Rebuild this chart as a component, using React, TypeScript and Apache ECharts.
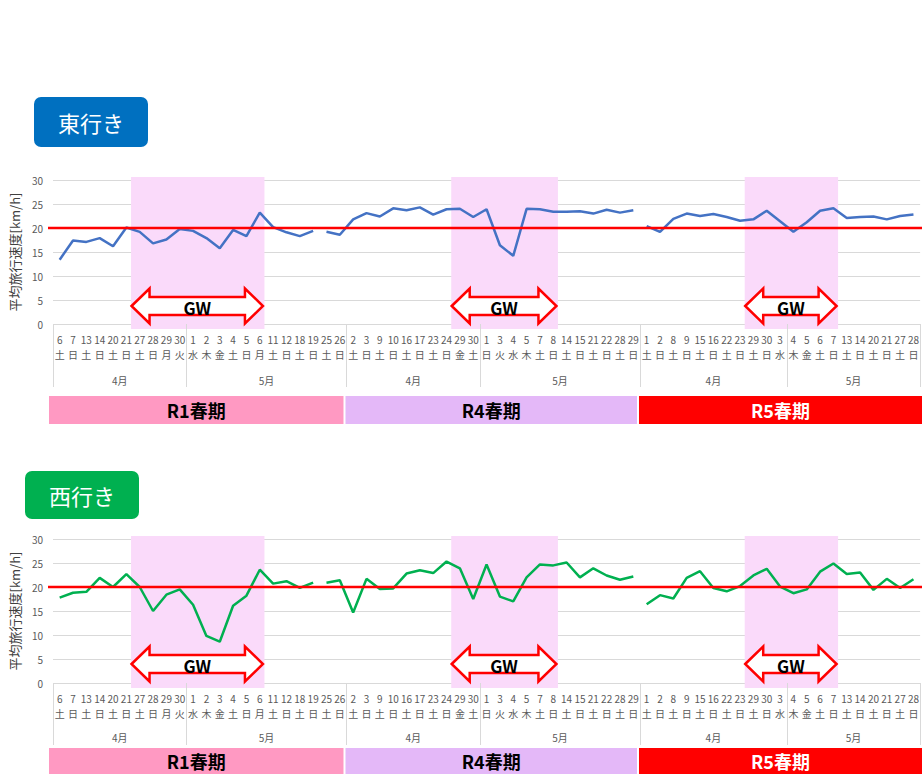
import React, { useEffect, useRef } from "react";
import * as echarts from "echarts";

// ---- data ----
const periods = ["R1春期", "R4春期", "R5春期"];
const monthLabels = ["4月", "5月"];
const r1Days = ["6","7","13","14","20","21","27","28","29","30","1","2","3","4","5","6","11","12","18","19","25","26"];
const r1Weekdays = ["土","日","土","日","土","日","土","日","月","火","水","木","金","土","日","月","土","日","土","日","土","日"];
const r4Days = ["2","3","9","10","16","17","23","24","29","30","1","3","4","5","7","8","14","15","21","22","28","29"];
const r4Weekdays = ["土","日","土","日","土","日","土","日","金","土","日","火","水","木","土","日","土","日","土","日","土","日"];
const r5Days = ["1","2","8","9","15","16","22","23","29","30","3","4","5","6","7","13","14","20","21","27","28"];
const r5Weekdays = ["土","日","土","日","土","日","土","日","土","日","水","木","金","土","日","土","日","土","日","土","日"];
// categories under each month label (as grouped in the source chart)
const monthCounts = [[10, 12], [10, 12], [11, 10]];

const eastR1 = [13.4, 17.4, 17.1, 17.9, 16.2, 20.1, 19.2, 16.8, 17.6, 19.8, 19.4, 17.9, 15.8, 19.6, 18.3, 23.2, 20.2, 19.1, 18.3, 19.4, 19.2, 18.6];
const eastR4 = [21.8, 23.1, 22.4, 24.1, 23.7, 24.3, 22.8, 23.9, 24.0, 22.3, 23.9, 16.4, 14.2, 24.0, 23.9, 23.4, 23.4, 23.5, 23.0, 23.8, 23.2, 23.7];
const eastR5 = [20.4, 19.2, 21.9, 23.0, 22.5, 22.9, 22.3, 21.5, 21.8, 23.6, 21.4, 19.2, 21.2, 23.6, 24.1, 22.1, 22.3, 22.4, 21.8, 22.5, 22.8];

const westR1 = [17.8, 18.8, 19.0, 21.9, 20.0, 22.7, 20.0, 15.0, 18.4, 19.5, 16.3, 9.8, 8.6, 16.1, 18.2, 23.6, 20.7, 21.2, 19.8, 20.9, 20.9, 21.4];
const westR4 = [14.7, 21.7, 19.6, 19.7, 22.8, 23.5, 22.9, 25.3, 23.9, 17.5, 24.7, 18.0, 17.0, 22.0, 24.7, 24.5, 25.1, 22.0, 23.9, 22.4, 21.5, 22.2];
const westR5 = [16.4, 18.3, 17.6, 21.9, 23.3, 19.8, 19.1, 20.2, 22.4, 23.8, 20.1, 18.7, 19.5, 23.2, 24.9, 22.7, 23.0, 19.4, 21.7, 19.8, 21.6];

const targetSpeed = 20;
const lineSegments = [[0, 19], [20, 43], [44, 64]]; // line breaks as in the source
const gwRanges = [[6, 15], [30, 37], [52, 58]]; // first & last GW category index
const yTicks = [0, 30, 5];

const FONT = "'Noto Sans CJK JP', 'Noto Sans', sans-serif";

export default function App() {
  const ref = useRef<HTMLDivElement>(null);
  useEffect(() => {
    if (!ref.current) return;
    const chart = echarts.init(ref.current, undefined, { renderer: "svg" });
    const days = [...r1Days, ...r4Days, ...r5Days];
    const wds = [...r1Weekdays, ...r4Weekdays, ...r5Weekdays];
    const cats = days.map((d, i) => `${d}\n${wds[i]}`);
    const east = [...eastR1, ...eastR4, ...eastR5];
    const west = [...westR1, ...westR4, ...westR5];

    const grids = [
      { left: 53, right: 0, top: 180, height: 144 },
      { left: 53, right: 0, top: 539, height: 144 },
    ];
    const mkX = (gi: number) => ({
      type: "category",
      gridIndex: gi,
      data: cats,
      boundaryGap: true,
      axisLine: { show: false },
      axisTick: { show: false },
      splitLine: { show: false },
      axisLabel: {
        interval: 0,
        fontSize: 10,
        lineHeight: 15,
        color: "#595959",
        margin: 8,
        fontFamily: FONT,
      },
    });
    const mkY = (gi: number) => ({
      type: "value",
      gridIndex: gi,
      min: yTicks[0],
      max: yTicks[1],
      interval: yTicks[2],
      name: "平均旅行速度[km/h]",
      nameLocation: "middle",
      nameGap: 22,
      nameTextStyle: { fontSize: 13, color: "#404040", fontFamily: FONT },
      axisLine: { show: false },
      axisTick: { show: false },
      axisLabel: { fontSize: 10, color: "#595959", margin: 10, fontFamily: FONT },
      splitLine: { lineStyle: { color: "#D9D9D9", width: 1 } },
    });
    const mkSeries = (values: number[], color: string, gi: number) =>
      lineSegments.map(([a, b]) => ({
        type: "line",
        xAxisIndex: gi,
        yAxisIndex: gi,
        data: values.map((v, i) => (i >= a && i <= b ? v : null)),
        symbol: "none",
        silent: true,
        z: 3,
        lineStyle: { color, width: 2.5 },
        itemStyle: { color },
      }));

    chart.setOption({
      animation: false,
      backgroundColor: "#fff",
      textStyle: { fontFamily: FONT },
      grid: grids,
      xAxis: [mkX(0), mkX(1)],
      yAxis: [mkY(0), mkY(1)],
      series: [...mkSeries(east, "#4472C4", 0), ...mkSeries(west, "#00B050", 1)],
    });

    const graphics: any[] = [];
    const chartConf = [
      { title: "東行き", boxColor: "#0070C0", box: [34, 97, 114, 50], bandTop: 72, bandTextOff: 14, monthY: 56, sepLen: 63, arrowOff: 18 },
      { title: "西行き", boxColor: "#00B050", box: [25, 471, 114, 48], bandTop: 65, bandTextOff: 13, monthY: 54, sepLen: 62, arrowOff: 19 },
    ];
    const bandColors = ["#FF99C2", "#E4B8F8", "#FF0000"];
    const bandText = ["#000", "#000", "#fff"];

    chartConf.forEach((cc, gi) => {
      const x0 = chart.convertToPixel({ xAxisIndex: gi }, 0) as number;
      const x1 = chart.convertToPixel({ xAxisIndex: gi }, 1) as number;
      const band = x1 - x0;
      const xf = (f: number) => x0 + f * band;
      const y0 = chart.convertToPixel({ yAxisIndex: gi }, 0) as number;
      const yT = chart.convertToPixel({ yAxisIndex: gi }, yTicks[1]) as number;
      const y20 = chart.convertToPixel({ yAxisIndex: gi }, targetSpeed) as number;

      // title box
      const [bx, by, bw, bh] = cc.box;
      graphics.push({ type: "rect", z: 10, shape: { x: bx, y: by, width: bw, height: bh, r: 7 }, style: { fill: cc.boxColor } });
      graphics.push({
        type: "text", z: 11, x: bx + bw / 2, y: by + bh / 2,
        style: { text: cc.title, fill: "#fff", fontSize: 22, fontFamily: FONT, align: "center", verticalAlign: "middle", textAlign: "center", textVerticalAlign: "middle" },
      });

      // GW shading + arrows
      gwRanges.forEach(([a, b]) => {
        const L = xf(a - 0.5) - 2;
        const R = xf(b + 0.35);
        graphics.push({ type: "rect", z: 1, silent: true, shape: { x: L, y: yT - 3, width: R - L, height: y0 + 5 - (yT - 3) }, style: { fill: "#FADAFA" } });
        const cy = y0 - cc.arrowOff;
        const h = 18, H = 17.5, s = 9;
        const Lr = L + 0.5, Rr = R - 1.5;
        graphics.push({
          type: "polygon", z: 6,
          shape: {
            points: [
              [Lr, cy], [Lr + h, cy - H], [Lr + h, cy - s], [Rr - h, cy - s], [Rr - h, cy - H],
              [Rr, cy], [Rr - h, cy + H], [Rr - h, cy + s], [Lr + h, cy + s], [Lr + h, cy + H],
            ],
          },
          style: { fill: "#fff", stroke: "#FF0000", lineWidth: 2.5, lineJoin: "miter" },
        });
        graphics.push({
          type: "text", z: 7, x: (Lr + Rr) / 2, y: cy + 1,
          style: { text: "GW", fill: "#000", fontSize: 17, fontWeight: "bold", fontFamily: FONT, align: "center", verticalAlign: "middle", textAlign: "center", textVerticalAlign: "middle" },
        });
      });

      // target line
      graphics.push({ type: "line", z: 5, silent: true, shape: { x1: 48, y1: y20, x2: 922, y2: y20 }, style: { stroke: "#FF0000", lineWidth: 2.5 } });

      // month labels, separators, period bands
      let start = 0;
      const bounds: number[] = [-0.5];
      monthCounts.forEach((mc, pi) => {
        const pStart = start;
        mc.forEach((n, mi) => {
          const c = start + (n - 1) / 2;
          graphics.push({
            type: "text", z: 5, x: xf(c), y: y0 + cc.monthY,
            style: { text: monthLabels[mi], fill: "#595959", fontSize: 10, fontFamily: FONT, align: "center", verticalAlign: "middle", textAlign: "center", textVerticalAlign: "middle" },
          });
          start += n;
          bounds.push(start - 0.5);
        });
        const bl = pi === 0 ? xf(pStart - 0.5) - 4 : xf(pStart - 0.5) - 1;
        const br = pi === monthCounts.length - 1 ? 922 : xf(start - 0.5) - 3;
        const bTop = y0 + cc.bandTop;
        graphics.push({ type: "rect", z: 5, shape: { x: bl, y: bTop, width: br - bl, height: 28 }, style: { fill: bandColors[pi] } });
        graphics.push({
          type: "text", z: 6, x: (bl + br) / 2, y: bTop + cc.bandTextOff,
          style: { text: periods[pi], fill: bandText[pi], fontSize: 18, fontWeight: "bold", fontFamily: FONT, lineHeight: 20, align: "center", verticalAlign: "middle", textAlign: "center", textVerticalAlign: "middle" },
        });
      });
      bounds.forEach((bd) => {
        const x = Math.round(xf(bd)) + 0.5;
        graphics.push({ type: "line", z: 4, silent: true, shape: { x1: x, y1: y0, x2: x, y2: y0 + cc.sepLen }, style: { stroke: "#D9D9D9", lineWidth: 1 } });
      });
    });

    chart.setOption({ graphic: graphics });
    return () => chart.dispose();
  }, []);
  return (
    <div
      ref={ref}
      style={{ position: "fixed", left: 0, top: 0, width: 922, height: 774, background: "#fff" }}
    />
  );
}
